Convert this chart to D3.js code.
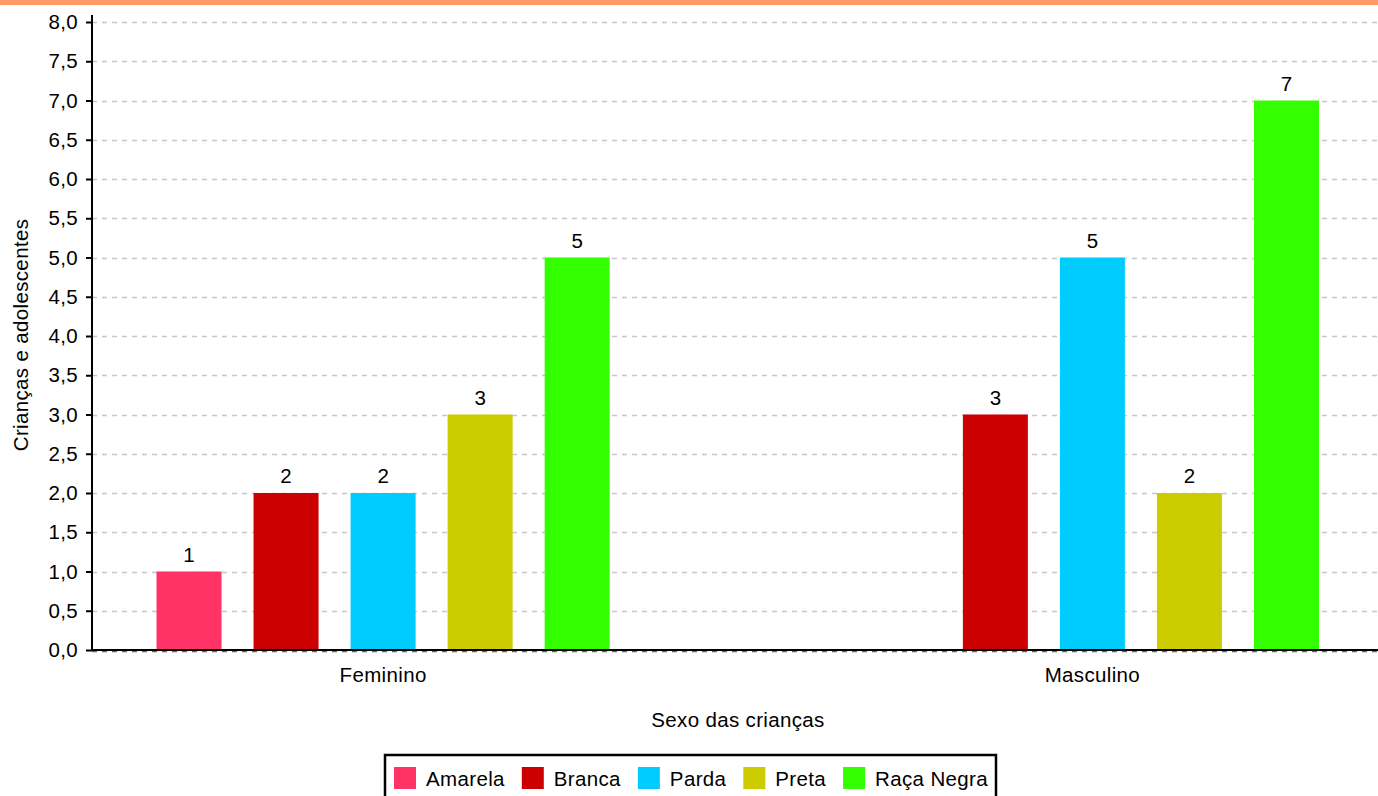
<!DOCTYPE html>
<html><head><meta charset="utf-8">
<script src="https://cdn.jsdelivr.net/npm/d3@7"></script>
<style>body{margin:0;background:#fff;}svg{display:block;font-family:"Liberation Sans",Arial,sans-serif;}</style>
</head><body>
<svg id="chart" width="1378" height="796"></svg>
<script>
const groups = ["Feminino", "Masculino"];
const seriesNames = ["Amarela", "Branca", "Parda", "Preta", "Raça Negra"];
const seriesColors = ["#FF3366", "#CC0000", "#00CCFF", "#CCCC00", "#33FF00"];
const valuesFeminino = [1, 2, 2, 3, 5];
const valuesMasculino = [null, 3, 5, 2, 7];
const yTicks = [0, 0.5, 1, 1.5, 2, 2.5, 3, 3.5, 4, 4.5, 5, 5.5, 6, 6.5, 7, 7.5, 8];
const xTitle = "Sexo das crianças";
const yTitle = "Crianças e adolescentes";

const data = [valuesFeminino, valuesMasculino];
const svg = d3.select("#chart");
const W = 1378, H = 796;
const FS = 20.5, LS = "0.35px";
const plotLeft = 92, plotRight = 1378, plotTop = 22, plotBottom = 650;

svg.append("rect").attr("x", 0).attr("y", 0).attr("width", W).attr("height", 5).attr("fill", "#FF9966");

const y = d3.scaleLinear().domain([0, 8]).range([plotBottom, plotTop]);
const x0 = d3.scaleBand().domain(groups).range([140.5, 1335]).paddingInner(0.316).paddingOuter(0);
const x1 = d3.scaleBand().domain(seriesNames).range([0, x0.bandwidth()]).paddingInner(0.33).paddingOuter(0.165);
const color = d3.scaleOrdinal().domain(seriesNames).range(seriesColors);

svg.append("g").selectAll("line").data(yTicks.filter(d => d > 0)).join("line")
  .attr("x1", plotLeft).attr("x2", plotRight)
  .attr("y1", d => Math.round(y(d)) + 0.5).attr("y2", d => Math.round(y(d)) + 0.5)
  .attr("stroke", "#c8c8c8").attr("stroke-width", 1.3).attr("stroke-dasharray", "5,5");

svg.append("line").attr("x1", plotLeft).attr("x2", plotRight)
  .attr("y1", y(0) + 1.5).attr("y2", y(0) + 1.5)
  .attr("stroke", "#666").attr("stroke-width", 1.5).attr("stroke-dasharray", "5,5");

const gGroups = svg.append("g").selectAll("g").data(groups).join("g")
  .attr("transform", g => `translate(${x0(g)},0)`);

gGroups.each(function(g, gi) {
  const items = seriesNames.map((s, i) => ({s, v: data[gi][i]})).filter(d => d.v != null);
  const sel = d3.select(this);
  sel.selectAll("rect").data(items).join("rect")
    .attr("x", d => x1(d.s)).attr("width", x1.bandwidth())
    .attr("y", d => y(d.v)).attr("height", d => y(0) - y(d.v))
    .attr("fill", d => color(d.s));
  sel.selectAll("text").data(items).join("text")
    .attr("x", d => x1(d.s) + x1.bandwidth() / 2).attr("y", d => y(d.v) - 10)
    .attr("text-anchor", "middle").attr("font-size", FS).attr("fill", "#000")
    .text(d => d.v);
});

svg.append("line").attr("x1", plotLeft).attr("x2", plotRight)
  .attr("y1", y(0)).attr("y2", y(0)).attr("stroke", "#000").attr("stroke-width", 2);

const yAxis = d3.axisLeft(y).tickValues(yTicks).tickSize(6).tickPadding(8)
  .tickFormat(d => d3.format(".1f")(d).replace(".", ","));
const ga = svg.append("g").attr("transform", `translate(${plotLeft},0)`).call(yAxis);
ga.select(".domain").remove();
ga.selectAll(".tick line").attr("stroke", "#000").attr("stroke-width", 2);
ga.selectAll(".tick text").attr("font-size", FS).attr("letter-spacing", LS).attr("fill", "#000").attr("font-family", "Liberation Sans, Arial, sans-serif");
svg.append("line").attr("x1", plotLeft).attr("x2", plotLeft).attr("y1", 15).attr("y2", plotBottom + 1)
  .attr("stroke", "#000").attr("stroke-width", 2);

svg.append("g").selectAll("text").data(groups).join("text")
  .attr("x", g => x0(g) + x0.bandwidth() / 2).attr("y", 682)
  .attr("text-anchor", "middle").attr("font-size", FS).attr("letter-spacing", LS).text(g => g);

svg.append("text").attr("x", 738).attr("y", 727).attr("text-anchor", "middle")
  .attr("font-size", FS).attr("letter-spacing", LS).text(xTitle);
svg.append("text").attr("transform", "translate(28,335) rotate(-90)").attr("text-anchor", "middle")
  .attr("font-size", FS).attr("letter-spacing", LS).text(yTitle);

const lg = svg.append("g");
lg.append("rect").attr("x", 385).attr("y", 755).attr("width", 611).attr("height", 50)
  .attr("fill", "#fff").attr("stroke", "#000").attr("stroke-width", 2.5);
let lx = 394;
seriesNames.forEach((s, i) => {
  lg.append("rect").attr("x", lx).attr("y", 767).attr("width", 22).attr("height", 22).attr("fill", color(s));
  const t = lg.append("text").attr("x", lx + 32).attr("y", 785.5).attr("font-size", FS).attr("letter-spacing", LS).text(s);
  lx += 32 + t.node().getComputedTextLength() + 17;
});
</script>
</body></html>
